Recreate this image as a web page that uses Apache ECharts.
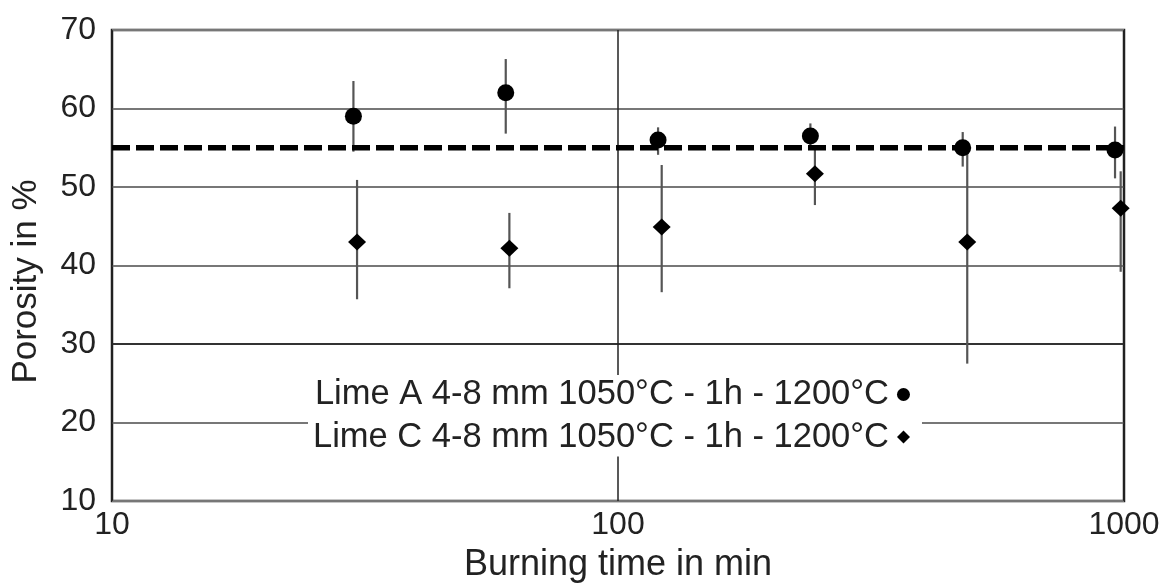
<!DOCTYPE html>
<html>
<head>
<meta charset="utf-8">
<script src="https://cdn.jsdelivr.net/npm/echarts@6/dist/echarts.min.js"></script>
<style>
  html, body { margin: 0; padding: 0; background: #fff; }
  #chart { width: 1162px; height: 584px; }
</style>
</head>
<body>
<div id="chart"></div>
<script>
// Burning time (min) and porosity (%) for two limes
const seriesNames = [
  'Lime A 4-8 mm 1050°C - 1h - 1200°C',
  'Lime C 4-8 mm 1050°C - 1h - 1200°C'
];
const timeA = [30, 60, 120, 240, 480, 960];
const porosityA = [59, 62, 56, 56.5, 55, 54.7];
const lowA = [54.5, 56.8, 54.1, 54.8, 52.6, 51.1];
const highA = [63.5, 66.3, 57.6, 58.1, 57, 57.7];

const timeC = [30.5, 61, 122, 245, 490, 985];
const porosityC = [43, 42.2, 44.9, 51.7, 43, 47.3];
const lowC = [35.7, 37.1, 36.6, 47.7, 27.5, 39.2];
const highC = [50.9, 46.7, 52.8, 55.3, 54.7, 52];

const referencePorosity = 55;
const timeRange = [10, 1000];
const porosityTicks = [10, 20, 30, 40, 50, 60, 70];

const FONT = 'Liberation Sans, Arial, sans-serif';
const TEXT = '#222';

function pairs(xs, ys) { return xs.map((x, i) => [x, ys[i]]); }
function bars(xs, lo, hi) { return xs.map((x, i) => [x, lo[i], hi[i]]); }

// vertical error bar from low to high at each burning time
function errorBar(params, api) {
  const top = api.coord([api.value(0), api.value(2)]);
  const bot = api.coord([api.value(0), api.value(1)]);
  return {
    type: 'line',
    shape: { x1: top[0], y1: top[1], x2: bot[0], y2: bot[1] },
    style: { stroke: '#555', lineWidth: 2.2 }
  };
}

const chart = echarts.init(document.getElementById('chart'), null, { renderer: 'canvas' });
chart.setOption({
  animation: false,
  backgroundColor: '#fff',
  textStyle: { fontFamily: FONT },
  grid: {
    left: 112, right: 38, top: 30, bottom: 83,
    outerBoundsMode: 'none', containLabel: false,
    show: true, borderColor: '#222', borderWidth: 2.5, backgroundColor: 'transparent'
  },
  xAxis: {
    type: 'log', logBase: 10, min: timeRange[0], max: timeRange[1],
    name: 'Burning time in min', nameLocation: 'middle', nameGap: 46,
    nameTextStyle: { fontFamily: FONT, fontSize: 36, color: TEXT },
    axisLine: { show: false },
    axisTick: { show: false },
    axisLabel: {
      fontFamily: FONT, fontSize: 32, color: TEXT, margin: 8,
      formatter: v => String(Math.round(v))
    },
    splitLine: { show: true, lineStyle: { color: '#222', width: 1.5 } }
  },
  yAxis: {
    type: 'value', min: porosityTicks[0], max: porosityTicks[porosityTicks.length - 1], interval: 10,
    name: 'Porosity in %', nameLocation: 'middle', nameGap: 68, nameRotate: 90,
    nameTextStyle: { fontFamily: FONT, fontSize: 35, color: TEXT, padding: [0, 32, 0, 0] },
    axisLine: { show: false },
    axisTick: { show: false },
    axisLabel: { fontFamily: FONT, fontSize: 32, color: TEXT, margin: 16 },
    splitLine: {
      show: true,
      lineStyle: { color: ['#777', '#777', '#333', '#777', '#777', '#777', '#777'], width: 2 }
    }
  },
  legend: {
    data: seriesNames,
    orient: 'vertical',
    left: 308, top: 375,
    align: 'right',
    itemWidth: 13, itemHeight: 13,
    itemGap: 7.5,
    padding: [2, 12, 2, 5],
    backgroundColor: '#fff',
    textStyle: { fontFamily: FONT, fontSize: 34.5, color: TEXT, padding: [0, 3, 0, 0] },
    selectedMode: false
  },
  series: [
    {
      name: 'reference', type: 'line',
      data: [[timeRange[0], referencePorosity], [timeRange[1], referencePorosity]],
      symbol: 'none', silent: true, z: 3,
      lineStyle: { color: '#000', width: 5.5, type: [18, 6] }
    },
    {
      name: 'errA', type: 'custom', renderItem: errorBar,
      data: bars(timeA, lowA, highA), encode: { x: 0, y: [1, 2] }, z: 2, silent: true
    },
    {
      name: 'errC', type: 'custom', renderItem: errorBar,
      data: bars(timeC, lowC, highC), encode: { x: 0, y: [1, 2] }, z: 2, silent: true
    },
    {
      name: seriesNames[0], type: 'scatter',
      data: pairs(timeA, porosityA),
      symbol: 'circle', symbolSize: 17, z: 4,
      itemStyle: { color: '#000', opacity: 1 }
    },
    {
      name: seriesNames[1], type: 'scatter',
      data: pairs(timeC, porosityC),
      symbol: 'diamond', symbolSize: [18, 17], z: 4,
      itemStyle: { color: '#000', opacity: 1 }
    }
  ]
});
</script>
</body>
</html>
